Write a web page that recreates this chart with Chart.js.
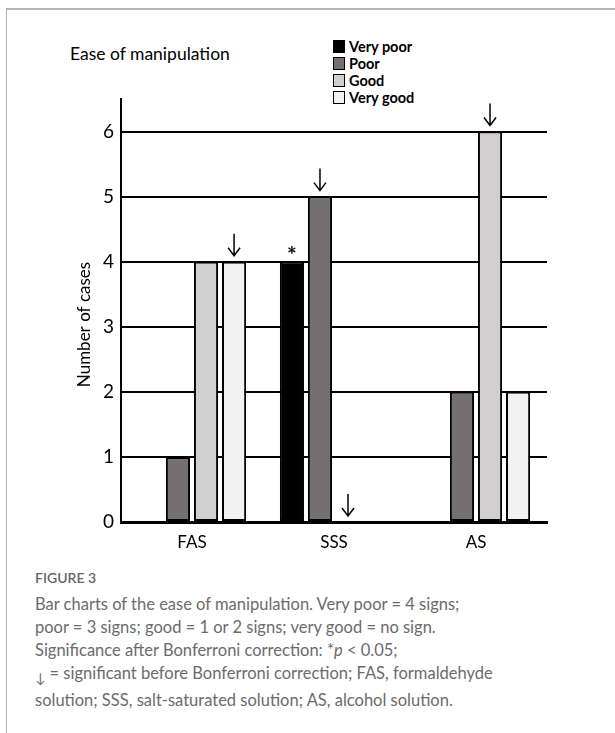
<!DOCTYPE html>
<html>
<head>
<meta charset="utf-8">
<script src="https://cdn.jsdelivr.net/npm/chart.js@4"></script>
<style>
  html, body { margin: 0; padding: 0; background: #fff; }
  body { width: 615px; height: 733px; position: relative; overflow: hidden; }
  .frame { position: absolute; left: 6px; top: 8px; width: 700px; height: 800px;
           border-top: 2px solid #b4b4b4; border-left: 1px solid #b4b4b4; }
  #chartBox { position: absolute; left: 0; top: 0; width: 615px; height: 565px; }
  .title { position: absolute; left: 70px; top: 43px; font-family: Lato, sans-serif;
           font-size: 17.5px; color: #000; white-space: nowrap; }
  .legend { position: absolute; left: 333px; top: 38px; font-family: Lato, sans-serif;
            font-weight: bold; font-size: 14.5px; color: #000; }
  .legend div { height: 17px; line-height: 17px; white-space: nowrap; }
  .legend span { display: inline-block; width: 10px; height: 11px; border: 1px solid #000;
                 vertical-align: -1px; margin-right: 4px; }
  .figlabel { position: absolute; left: 35px; top: 569px; font-family: Lato, sans-serif;
              font-size: 14px; color: #666; font-weight: 600; }
  .caption { position: absolute; left: 35px; top: 593px; font-family: Lato, sans-serif;
             font-size: 16.5px; line-height: 23px; color: #6b6b6b; white-space: nowrap; }
</style>
</head>
<body>
<div class="frame"></div>
<div class="title">Ease of manipulation</div>
<div class="legend" id="legend"></div>
<div id="chartBox"><canvas id="chart"></canvas></div>
<div class="figlabel">FIGURE 3</div>
<div class="caption">
Bar charts of the ease of manipulation. Very poor = 4 signs;<br>
poor = 3 signs; good = 1 or 2 signs; very good = no sign.<br>
Significance after Bonferroni correction: *<i>p</i> &lt; 0.05;<br>
<sub>↓</sub> = significant before Bonferroni correction; FAS, formaldehyde<br>
solution; SSS, salt-saturated solution; AS, alcohol solution.
</div>
<script>
// solutions on the x axis
const categories = ['FAS', 'SSS', 'AS'];

// number of cases per rating
const seriesNames = ['Very poor', 'Poor', 'Good', 'Very good'];
const veryPoor = [0, 4, 0];
const poor = [1, 5, 2];
const good = [4, 0, 6];
const veryGood = [4, 0, 2];
const seriesColors = ['#000000', '#767170', '#d0cece', '#f2f2f2'];

const yTicks = [0, 1, 2, 3, 4, 5, 6];
const yTitle = 'Number of cases';

// significance marks: [series, category]
const arrowMarks = [['Very good', 'FAS'], ['Poor', 'SSS'], ['Good', 'SSS'], ['Good', 'AS']];
const starMarks = [['Very poor', 'SSS']];

// legend in html
const legendEl = document.getElementById('legend');
seriesNames.forEach((name, i) => {
    const row = document.createElement('div');
    row.innerHTML = '<span style="background:' + seriesColors[i] + '"></span>' + name;
    legendEl.appendChild(row);
});

// y title (sits a bit below the middle), arrows and asterisk
const marksPlugin = {
    id: 'marks',
    afterDraw(chart) {
        const ctx = chart.ctx;
        const area = chart.chartArea;
        ctx.save();
        ctx.fillStyle = '#000';
        ctx.font = '17px Lato, sans-serif';
        ctx.textAlign = 'center';
        ctx.textBaseline = 'middle';
        ctx.translate(85, (area.top + area.bottom) / 2 + 14);
        ctx.rotate(-Math.PI / 2);
        ctx.fillText(yTitle, 0, 0);
        ctx.restore();

        ctx.save();
        ctx.strokeStyle = '#000';
        ctx.lineWidth = 1.5;
        arrowMarks.forEach(([s, c]) => {
            const el = chart.getDatasetMeta(seriesNames.indexOf(s)).data[categories.indexOf(c)];
            const x = el.x, tip = el.y - 6;
            ctx.beginPath();
            ctx.moveTo(x, tip - 22);
            ctx.lineTo(x, tip);
            ctx.moveTo(x - 6, tip - 8);
            ctx.lineTo(x, tip);
            ctx.lineTo(x + 6, tip - 8);
            ctx.stroke();
        });
        ctx.fillStyle = '#000';
        ctx.font = 'bold 23px Lato, sans-serif';
        ctx.textAlign = 'center';
        ctx.textBaseline = 'middle';
        starMarks.forEach(([s, c]) => {
            const el = chart.getDatasetMeta(seriesNames.indexOf(s)).data[categories.indexOf(c)];
            ctx.fillText('*', el.x, el.y - 6);
        });
        ctx.restore();
    }
};

const seriesData = [veryPoor, poor, good, veryGood];

new Chart(document.getElementById('chart'), {
    type: 'bar',
    data: {
        labels: categories,
        datasets: seriesNames.map((name, i) => ({
            label: name,
            data: seriesData[i],
            backgroundColor: seriesColors[i],
            borderColor: '#000',
            borderWidth: ctx => ctx.raw ? 2 : 0,
            borderSkipped: false,
            categoryPercentage: 0.79,
            barPercentage: 0.86
        }))
    },
    options: {
        responsive: true,
        maintainAspectRatio: false,
        animation: false,
        events: [],
        layout: { padding: { left: 0, right: 68, top: 99, bottom: 8 } },
        plugins: { legend: { display: false }, title: { display: false }, tooltip: { enabled: false } },
        scales: {
            x: {
                grid: { display: false, drawTicks: false },
                border: { display: true, color: '#000', width: 3 },
                ticks: { color: '#000', padding: 10, font: { family: 'Lato, sans-serif', size: 17 } },
                afterFit: scale => { scale.height = 35; }
            },
            y: {
                min: 0,
                max: 6.5,
                afterBuildTicks: scale => { scale.ticks = yTicks.map(v => ({ value: v })); },
                grid: { color: '#000', lineWidth: 2, drawTicks: false },
                border: { display: true, color: '#000', width: 2 },
                ticks: { color: '#000', padding: 7, font: { family: 'Lato, sans-serif', size: 19 } },
                afterFit: scale => { scale.width = 121; }
            }
        }
    },
    plugins: [marksPlugin]
});
</script>
</body>
</html>
